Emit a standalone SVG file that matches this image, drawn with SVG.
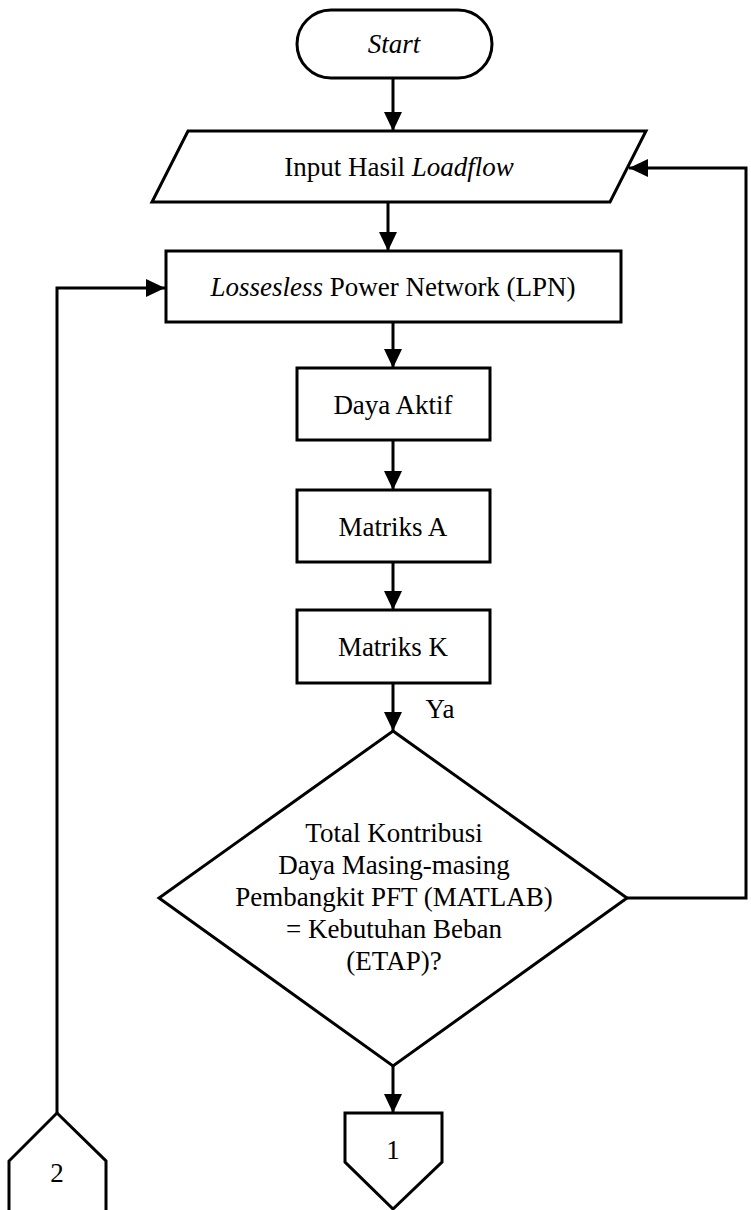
<svg xmlns="http://www.w3.org/2000/svg" width="751" height="1210" viewBox="0 0 751 1210">
<style>
.s{fill:#fff;stroke:#000;stroke-width:3}
.t{font-family:"Liberation Serif","Times New Roman",serif;font-size:27px;fill:#000;text-anchor:middle}
.c{fill:none;stroke:#000;stroke-width:3}
</style>
<defs>
<marker id="ah" markerUnits="userSpaceOnUse" markerWidth="19" markerHeight="18" viewBox="0 0 19 18" refX="19" refY="9" orient="auto">
<path d="M0,0 L19,9 L0,18 z" fill="#000"/>
</marker>
</defs>
<rect width="751" height="1210" fill="#fff"/>
<g id="connectors">
<line class="c" x1="393" y1="78" x2="393" y2="131" marker-end="url(#ah)"/>
<line class="c" x1="388" y1="202" x2="388" y2="251" marker-end="url(#ah)"/>
<line class="c" x1="393" y1="322" x2="393" y2="368" marker-end="url(#ah)"/>
<line class="c" x1="393" y1="440" x2="393" y2="490" marker-end="url(#ah)"/>
<line class="c" x1="393" y1="562" x2="393" y2="610" marker-end="url(#ah)"/>
<line class="c" x1="393" y1="683" x2="393" y2="731" marker-end="url(#ah)"/>
<line class="c" x1="393" y1="1066" x2="393" y2="1113" marker-end="url(#ah)"/>
<polyline class="c" points="627,898 746,898 746,168 629,168" marker-end="url(#ah)"/>
<polyline class="c" points="57,1113 57,288 165,288" marker-end="url(#ah)"/>
<text class="t" x="440" y="718">Ya</text>
</g>
<g id="start">
<rect class="s" x="297" y="10" width="195" height="68" rx="34" ry="34"/>
<text class="t" x="394" y="53" font-style="italic">Start</text>
</g>
<g id="input">
<polygon class="s" points="188,131 646,131 610,202 152,202"/>
<text class="t" x="399" y="176">Input Hasil <tspan font-style="italic">Loadflow</tspan></text>
</g>
<g id="lpn">
<rect class="s" x="166" y="251" width="455" height="71"/>
<text class="t" x="393" y="296"><tspan font-style="italic">Lossesless</tspan> Power Network (LPN)</text>
</g>
<g id="daya">
<rect class="s" x="297" y="368" width="193" height="72"/>
<text class="t" x="393" y="414">Daya Aktif</text>
</g>
<g id="matA">
<rect class="s" x="297" y="490" width="193" height="72"/>
<text class="t" x="393" y="536">Matriks A</text>
</g>
<g id="matK">
<rect class="s" x="297" y="610" width="193" height="73"/>
<text class="t" x="393" y="656">Matriks K</text>
</g>
<g id="decision">
<polygon class="s" points="393,731 627,898 393,1066 159,898"/>
<text class="t" x="394" y="842">Total Kontribusi</text>
<text class="t" x="394" y="874">Daya Masing-masing</text>
<text class="t" x="394" y="906">Pembangkit PFT (MATLAB)</text>
<text class="t" x="394" y="938">= Kebutuhan Beban</text>
<text class="t" x="394" y="970">(ETAP)?</text>
</g>
<g id="conn1">
<polygon class="s" points="345,1113 442,1113 442,1162 393,1209 345,1162"/>
<text class="t" x="393" y="1159" font-size="25">1</text>
</g>
<g id="conn2">
<polygon class="s" points="57,1113 106,1161 106,1212 9,1212 9,1161"/>
<text class="t" x="57" y="1182" font-size="25">2</text>
</g>
</svg>
